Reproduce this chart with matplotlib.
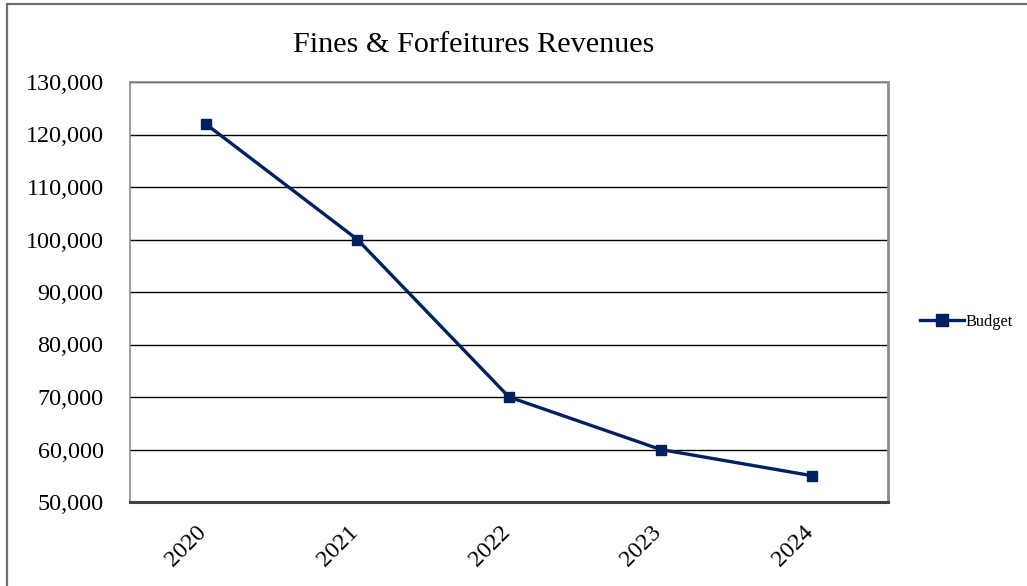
import matplotlib
matplotlib.use("Agg")
import matplotlib.pyplot as plt
from matplotlib.patches import Rectangle
from matplotlib.ticker import FuncFormatter
from matplotlib.transforms import ScaledTranslation

years = ["2020", "2021", "2022", "2023", "2024"]
budget = [122000, 100000, 70000, 60000, 55000]

plt.rcParams['font.family'] = ['Liberation Serif', 'DejaVu Serif']

W, H = 1027, 586
fig = plt.figure(figsize=(W / 100, H / 100), dpi=100)
ax = fig.add_axes([130 / W, 1 - 502 / H, 758 / W, 420 / H])

navy = "#002060"
x = range(len(years))
ax.plot(x, budget, color=navy, lw=2.4, marker="s", markersize=7.5,
        markerfacecolor=navy, markeredgecolor=navy, label="Budget", zorder=3)

ax.set_xlim(-0.5, len(years) - 0.5)
ax.set_ylim(50000, 130000)
ax.set_yticks(range(50000, 130001, 10000))
ax.yaxis.set_major_formatter(FuncFormatter(lambda v, p: f"{int(v):,}"))
ax.set_xticks(list(x))
ax.set_xticklabels(years, rotation=45, ha="right", va="top")
ax.tick_params(axis="y", length=0, pad=19, labelsize=17.4)
ax.tick_params(axis="x", length=0, pad=14, labelsize=17.4)
shift = ScaledTranslation(5 / 100, 0, fig.dpi_scale_trans)
for lbl in ax.get_xticklabels():
    lbl.set_transform(lbl.get_transform() + shift)
ax.grid(axis="y", color="black", lw=1.0)
ax.set_axisbelow(True)

for side in ["left", "top", "right"]:
    ax.spines[side].set_color("#8c8c8c")
    ax.spines[side].set_linewidth(1.2)
ax.spines["right"].set_linewidth(2.0)
ax.spines["bottom"].set_color("#404040")
ax.spines["bottom"].set_linewidth(2.2)

fig.text(474 / W, 1 - 45 / H, "Fines & Forfeitures Revenues", ha="center",
         va="center", fontsize=21.8)

fig.legend(loc="center left", bbox_to_anchor=(905 / W, 1 - 322 / H),
           frameon=False, fontsize=11.8, handlelength=2.7, handletextpad=0.1,
           markerscale=1.15)

# outer chart frame
fig.patches.append(Rectangle((7 / W, -0.1), 1.2, 1.1 - 4 / H, transform=fig.transFigure,
                             fill=False, edgecolor="#6e6e6e", lw=1.6))

fig.savefig("out.png", dpi=100)
